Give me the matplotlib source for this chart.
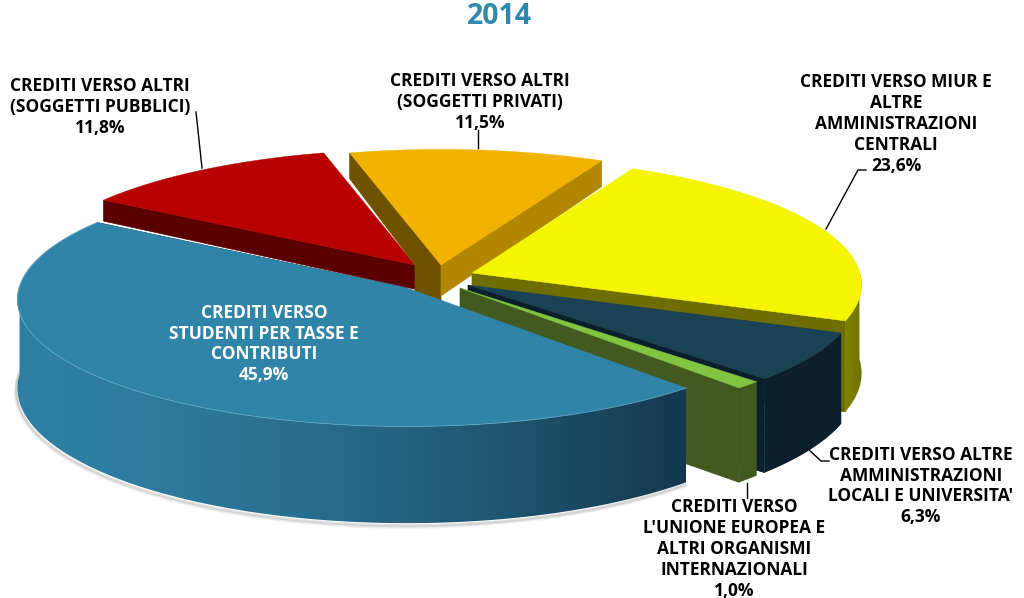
import numpy as np
import matplotlib
matplotlib.use('Agg')
import matplotlib.pyplot as plt
from matplotlib.patches import Polygon

plt.rcParams['font.family'] = ['Open Sans', 'DejaVu Sans']

# quote percentuali, in senso orario a partire da "soggetti pubblici"
names = ['pubblici', 'privati', 'miur', 'locali', 'ue', 'studenti']
shares = [11.8, 11.5, 23.6, 6.3, 1.0, 45.9]

labels = ['CREDITI VERSO ALTRI\n(SOGGETTI PUBBLICI)\n11,8%',
          'CREDITI VERSO ALTRI\n(SOGGETTI PRIVATI)\n11,5%',
          'CREDITI VERSO MIUR E\nALTRE\nAMMINISTRAZIONI\nCENTRALI\n23,6%',
          "CREDITI VERSO ALTRE\nAMMINISTRAZIONI\nLOCALI E UNIVERSITA'\n6,3%",
          "CREDITI VERSO\nL'UNIONE EUROPEA E\nALTRI ORGANISMI\nINTERNAZIONALI\n1,0%",
          'CREDITI VERSO\nSTUDENTI PER TASSE E\nCONTRIBUTI\n45,9%']

# stile: centro di ogni fetta (esplosa), colori, spessore del bordo
apex = [(415, 265), (441, 265), (472, 273), (468, 285), (460, 288), (407, 288)]
top_col = ['#b80000', '#f2b200', '#f5f500', '#1b4155', '#82c341', '#2f84a8']
face_col = ['#5a0000', '#b38600', '#6e6e00', '#0c1f2c', '#42591f', '#14384d']
back_col = [None, '#6e5200', None, None, None, None]
wall_l = ['#5a0000', '#b38600', '#7f7f00', '#0c1f2c', '#42591f', '#2f80a4']
wall_r = ['#5a0000', '#b38600', '#6e6e00', '#0c1f2c', '#42591f', '#14384d']
depth = [22, 28, 88, 88, 88, 88]
label_pos = [(100, 107), (480, 102), (896, 124), (921, 486), (734, 549), (264, 344)]
label_col = ['black', 'black', 'black', 'black', 'black', 'white']
leaders = [[(196, 112), (202, 168)],
           [(478, 130), (478, 148)],
           [(866, 170), (858, 170), (826, 229)],
           [(829, 461), (821, 461), (808, 449)],
           [(747, 498), (747, 483)]]

R, r, k = 388, 126, 0.09
start = 147.3


def project(centre, theta, drop=0):
    # disco in prospettiva -> pixel
    t = np.radians(theta)
    w = 1 + k * np.sin(t)
    x = centre[0] + R * np.cos(t) / w
    y = centre[1] - r * np.sin(t) / w + drop / w
    return x, y


fig = plt.figure(figsize=(10.24, 5.98), dpi=100)
ax = fig.add_axes([0, 0, 1, 1])
ax.axis('off')

ends = start - np.cumsum(shares) * 3.6
begins = np.r_[start, ends[:-1]]

# ombra sotto il bordo della fetta grande
th = np.linspace(begins[5], ends[5], 200)
for off, al in zip([4, 3, 2], [0.06, 0.1, 0.15]):
    x, y = project(apex[5], th, depth[5] + off)
    ax.plot(x - off * 0.5, y, color='#555555', alpha=al, lw=2, zorder=1)

for i in range(len(shares)):
    c = apex[i]
    th = np.linspace(begins[i], ends[i], 160)
    d = depth[i]

    # faccia radiale sinistra (solo arancione) e destra
    if back_col[i]:
        x0, y0 = project(c, begins[i])
        x1, y1 = project(c, begins[i], d)
        ax.fill([c[0], x0, x1, apex[0][0], apex[0][0], c[0]],
                [c[1], y0, y1, apex[0][1], c[1] + 40, c[1] + 40],
                color=back_col[i], lw=0.5, zorder=2 + i)
    ang = begins[i] if i == 0 else ends[i]
    x0, y0 = project(c, ang)
    x1, y1 = project(c, ang, d)
    ax.fill([c[0], x0, x1, c[0]], [c[1], y0, y1, c[1] + d * 1.1],
            color=face_col[i], lw=0.5, zorder=2 + i)

    # parete esterna con gradiente, solo la parte rivolta verso chi guarda
    vis = th[(np.sin(np.radians(th)) < 0.02)]
    if len(vis) > 1:
        xa, ya = project(c, vis)
        xb, yb = project(c, vis, d)
        wall = Polygon(np.c_[np.r_[xa, xb[::-1]], np.r_[ya, yb[::-1]]],
                       transform=ax.transData, fc='none', ec='none')
        ax.add_patch(wall)
        f = np.linspace(0, 1, 256) ** 1.6
        c1 = np.array(matplotlib.colors.to_rgb(wall_l[i]))
        c2 = np.array(matplotlib.colors.to_rgb(wall_r[i]))
        grad = (c1 + (c2 - c1) * f[:, None])[None, :, :]
        im = ax.imshow(grad, aspect='auto', zorder=2 + i,
                       extent=(xa.min(), xa.max(), yb.max() + 2, ya.min() - 2))
        im.set_clip_path(wall)

    # faccia superiore
    x, y = project(c, th)
    ax.fill(np.r_[c[0], x], np.r_[c[1], y], color=top_col[i], lw=0.3, zorder=2 + i)

# filo chiaro sul bordo della fetta blu
x, y = project(apex[5], np.linspace(begins[5], ends[5], 200))
ax.plot(x, y, color='#6fb4d0', lw=0.7, alpha=0.6, zorder=8)

for pos, txt, col in zip(label_pos, labels, label_col):
    ax.text(pos[0], pos[1], txt, color=col, fontsize=12.5, fontweight='bold',
            ha='center', va='center', linespacing=1.21, zorder=20)

for line in leaders:
    pts = np.array(line)
    ax.plot(pts[:, 0], pts[:, 1], color='black', lw=1, zorder=19)

ax.text(499, 17, '2014', color='#3089ad', fontsize=20.5, fontweight='bold',
        ha='center', va='center')

ax.set_xlim(0, 1024)
ax.set_ylim(598, 0)

fig.savefig('out.png', dpi=100)
